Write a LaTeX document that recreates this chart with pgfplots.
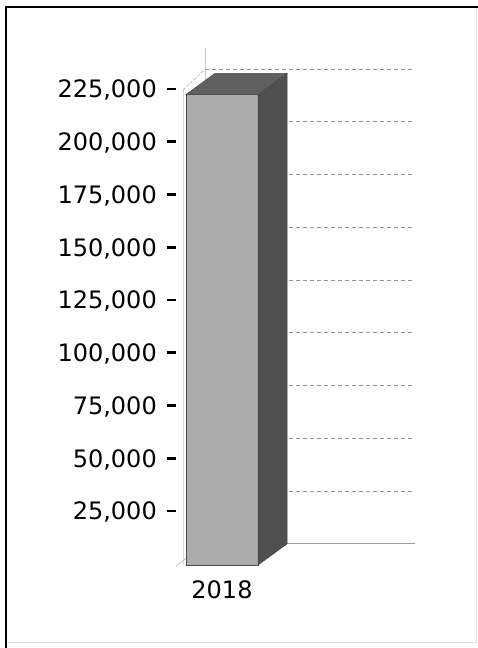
\documentclass[border=0pt]{standalone}
\usepackage{pgfplots}
\pgfplotsset{compat=1.18}
\usepackage{fontspec}
\setmainfont{DejaVu Sans}
\definecolor{frontc}{RGB}{172,172,172}
\definecolor{sidec}{RGB}{80,80,80}
\definecolor{topc}{RGB}{96,96,96}
\begin{document}
\begin{tikzpicture}
\useasboundingbox (0,0) rectangle (478bp,648bp);
\fill[white] (0,0) rectangle (478bp,648bp);
\draw[gray!25, line width=1bp] (476.5bp,641bp) -- (476.5bp,5bp) -- (6bp,5bp);
\draw[black, line width=2bp] (6bp,0) -- (6bp,641bp) -- (478bp,641bp);
\begin{axis}[
  scale only axis, width=232bp, height=516.95bp,
  at={(183bp,83bp)}, anchor=south west,
  xmin=183, xmax=415, ymin=0, ymax=245000,
  axis line style={draw=none}, major tick length=0pt,
  clip=false, scaled y ticks=false,
  ytick={25000,50000,75000,100000,125000,150000,175000,200000,225000},
  yticklabel={\pgfmathprintnumber[fixed,precision=0,assume math mode=true,1000 sep={,}]{\tick}\hspace{10bp}\raisebox{7.3bp}{\rule{9bp}{2.8bp}}},
  xtick={222}, xticklabels={2018},
  tick label style={font=\fontsize{24bp}{28bp}\selectfont},
  yticklabel style={anchor=east, inner sep=0pt, xshift=-7bp},
  xticklabel style={anchor=north, inner sep=0pt, yshift=-15bp},
]
\pgfplotsinvokeforeach{35000,60000,85000,110000,135000,160000,185000,210000,235000}{
  \addplot[gray!85, line width=0.8bp, dash pattern=on 4bp off 3bp] coordinates {(205,#1) (415,#1)};
}
\addplot[gray!75, line width=1bp] coordinates {(205,10000) (415,10000)};
\addplot[gray!45, line width=0.8bp] coordinates {(205,10000) (205,245000)};
\addplot[gray!30, line width=0.8bp] coordinates {(183,0) (183,225000)};
\addplot[gray!50, line width=0.8bp] coordinates {(176,-500) (205,10000)};
\addplot[gray!50, line width=0.8bp, dash pattern=on 3bp off 2bp] coordinates {(183,225000) (205,235000)};
\addplot[ybar, bar width=72bp, fill=frontc, draw=gray!60!black, line width=0.5bp] coordinates {(222,223000)};
\addplot[fill=sidec, draw=sidec!80!black, line width=0.5bp] coordinates {(258,0) (287,10000) (287,233000) (258,223000)} --cycle;
\addplot[fill=topc, draw=topc!80!black, line width=0.5bp] coordinates {(186,223000) (215,233000) (287,233000) (258,223000)} --cycle;
\end{axis}
\end{tikzpicture}
\end{document}
